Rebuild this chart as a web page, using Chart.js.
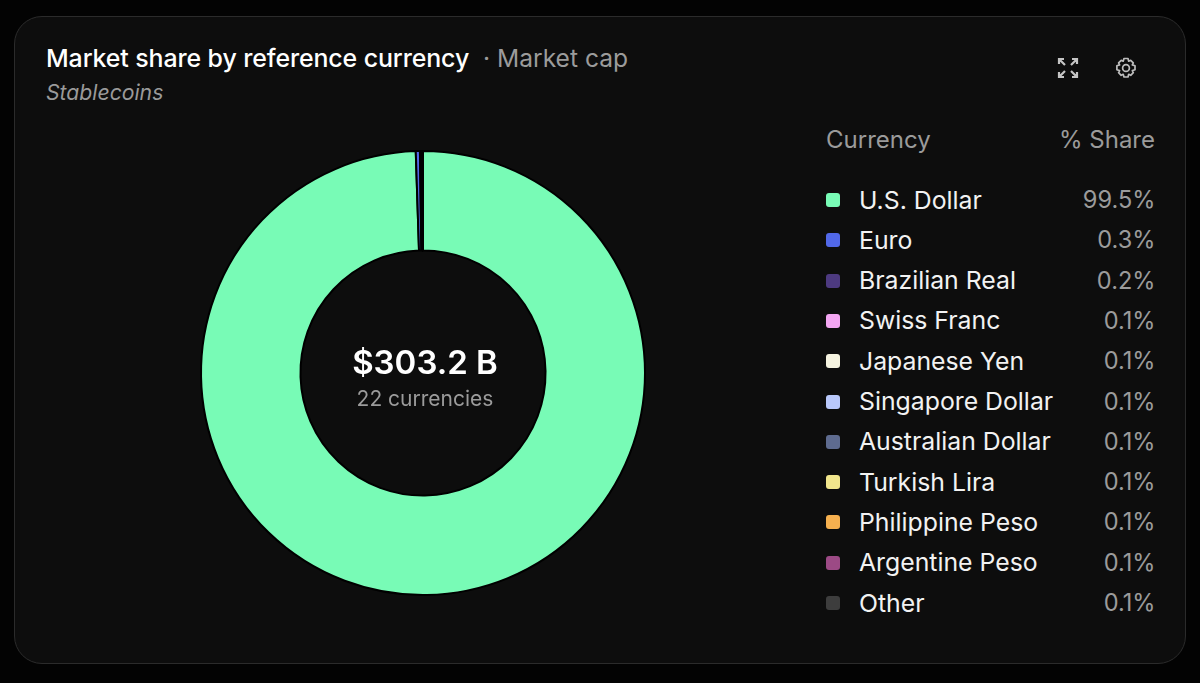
<!DOCTYPE html>
<html><head><meta charset="utf-8">
<script src="https://cdn.jsdelivr.net/npm/chart.js@4"></script>
<style>
html,body{margin:0;padding:0;width:1200px;height:683px;background:#030303;overflow:hidden;font-family:Inter,"Noto Sans",sans-serif}
#card{position:absolute;left:14px;top:16px;width:1170px;height:646px;background:#0d0d0d;border:1.5px solid #2b2b2b;border-radius:28px}
.t{position:absolute;white-space:nowrap;line-height:1}
#chartBox{position:absolute;left:173px;top:123px;width:500px;height:500px}
.sw{position:absolute;width:14px;height:14px;border-radius:3px}
</style></head><body>
<div id="card"></div>
<div class="t" style="left:46px;top:45.5px;font-size:24.9px;font-weight:500;color:#fff;letter-spacing:-.1px">Market share by reference currency</div>
<div class="t" style="left:483px;top:46px;font-size:24.6px;color:#9b9b9b">· Market cap</div>
<div class="t" style="left:46px;top:81.5px;font-size:21.2px;font-style:italic;color:#9a9a9a">Stablecoins</div>
<svg style="position:absolute;left:1056px;top:56px" width="24" height="24" viewBox="0 0 24 24" fill="none" stroke="#c4c4c4" stroke-width="2.2"><path d="M3 8V3h5M3 3l6 6M16 3h5v5M21 3l-6 6M3 16v5h5M3 21l6-6M21 16v5h-5M21 21l-6-6"/></svg>
<svg style="position:absolute;left:1114px;top:56px" width="24" height="24" viewBox="0 0 24 24" fill="none" stroke="#bdbdbd" stroke-width="1.7"><circle cx="12" cy="12" r="3.4"/><path d="M10 2.5h4l.7 2.7 2-.9 2.6 2.6-1 2 2.7 .9v4l-2.7.8 1 2-2.6 2.7-2-1-.7 2.7h-4l-.8-2.7-2 1-2.6-2.7 1-2-2.7-.8v-4l2.7-.9-1-2 2.6-2.6 2 .9z" stroke-linejoin="round"/></svg>
<div class="t" style="left:826px;top:128px;font-size:24px;color:#9b9b9b">Currency</div>
<div class="t" style="right:45px;top:128px;font-size:24px;color:#9b9b9b">% Share</div>
<div id="chartBox"><canvas id="c" width="500" height="500"></canvas></div>
<div class="t" style="left:275px;width:300px;text-align:center;top:346px;font-size:33px;font-weight:600;color:#fff">$303.2 B</div>
<div class="t" style="left:275px;width:300px;text-align:center;top:388px;font-size:21px;color:#9b9b9b">22 currencies</div>
<div id="legend"></div>
<script>
const categories=["U.S. Dollar","Euro","Brazilian Real","Swiss Franc","Japanese Yen","Singapore Dollar","Australian Dollar","Turkish Lira","Philippine Peso","Argentine Peso","Other"];
const shareLabels=["99.5%","0.3%","0.2%","0.1%","0.1%","0.1%","0.1%","0.1%","0.1%","0.1%","0.1%"];
const shareValues=[99.5,0.3,0.12,0.02,0.015,0.015,0.01,0.01,0.01,0.01,0.01];
const colors=["#78fbb6","#5168e8","#4d3a80","#f3a6f2","#f5f3e0","#b9c8fb","#5e6b8f","#f1e68c","#f6b04f","#9c4a85","#3d3d3d"];
const legend=document.getElementById('legend');
categories.forEach((name,i)=>{
  const y=200+i*40.3;
  legend.insertAdjacentHTML('beforeend',
  `<div class="sw" style="left:826px;top:${y-7}px;background:${colors[i]}"></div>
   <div class="t" style="left:859px;top:${y-12.5}px;font-size:24.8px;color:#f2f2f2">${name}</div>
   <div class="t" style="right:44.5px;top:${y-12}px;font-size:23.6px;color:#9b9b9b">${shareLabels[i]}</div>`);
});
new Chart(document.getElementById('c'),{
  type:'doughnut',
  data:{labels:categories,datasets:[{data:shareValues,backgroundColor:colors,borderColor:'#000',borderWidth:2}]},
  options:{responsive:false,animation:false,cutout:'55.2%',
    layout:{padding:27},
    plugins:{legend:{display:false},tooltip:{enabled:false}}}
});
</script>
</body></html>
